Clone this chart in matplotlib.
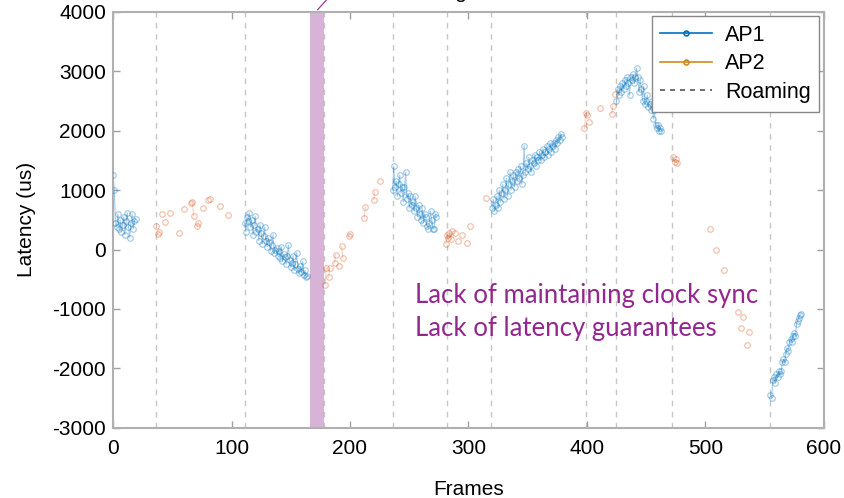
#!/usr/bin/env python3

import numpy as np
import pandas as pd
import matplotlib
matplotlib.use('Agg')
from matplotlib import pyplot as plt
from matplotlib.lines import Line2D

# AP1 samples (frame -> latency in us)
ap1_frames = (list(range(0, 20)) + list(range(111, 165)) + list(range(236, 274))
              + list(range(320, 380)) + list(range(425, 464)) + list(range(555, 582)))
ap1_latency = [
    # 0-19
    1250, 1000, 450, 380, 600, 350, 500, 300, 420, 550, 250, 480, 620, 380, 200, 450, 600, 350, 480, 520,
    # 111-164
    450, 300, 550, 480, 620, 380, 500, 250, 420, 560, 300, 350, 150, 420, 280, 100, 230, 380, 150, 50,
    200, 120, -20, 80, 250, -50, 0, 30, -100, -20, -150, 50, -200, -80, -120, -250, -100, 80, -180, -300,
    -220, -100, -350, -250, -50, -320, -400, -280, -380, -200, -420, -350, -470, -450,
    # 236-273
    1000, 1400, 1050, 1150, 900, 1100, 1250, 950, 1050, 800, 1050, 1300, 850, 950, 700, 900, 750, 800, 650, 900,
    700, 550, 750, 600, 500, 700, 450, 600, 550, 400, 350, 450, 650, 500, 350, 350, 600, 550,
    # 320-379
    700, 850, 650, 750, 900, 700, 1000, 800, 950, 1100, 850, 1000, 1200, 900, 1100, 1300, 1000, 1150, 1250, 1050,
    1300, 1150, 1350, 1200, 1400, 1100, 1250, 1750, 1300, 1450, 1350, 1550, 1400, 1300, 1500, 1450, 1600, 1400, 1550, 1500,
    1650, 1500, 1600, 1700, 1550, 1650, 1750, 1600, 1700, 1800, 1650, 1750, 1800, 1700, 1850, 1800, 1900, 1850, 1950, 1900,
    # 425-463
    2500, 2700, 2600, 2750, 2650, 2800, 2700, 2850, 2750, 2900, 2800, 2600, 2900, 2850, 2950, 2800, 2900, 3050, 2900, 2650,
    2850, 2700, 2500, 2750, 2450, 2500, 2600, 2400, 2450, 2350, 2500, 2200, 2350, 2100, 2050, 2100, 2000, 2050, 2000,
    # 555-581
    -2450, -2500, -2200, -2150, -2250, -2100, -2150, -2050, -2100, -2050, -1900, -1850, -1900, -1750, -1650, -1700,
    -1550, -1500, -1550, -1450, -1400, -1450, -1250, -1200, -1150, -1100, -1080,
]

# AP2 samples, sparse
ap2_frames = [36, 38, 39, 41, 44, 48, 56, 60, 66, 67, 68, 71, 72, 76, 80, 82, 90, 97,
              179, 180, 182, 183, 187, 188, 191, 193, 194, 199, 200, 212, 213, 220, 221, 225,
              281, 282, 283, 284, 285, 286, 289, 291, 295, 299, 301, 315,
              398, 399, 400, 402, 411, 421, 422, 424,
              473, 474, 475, 476, 504, 509, 516, 528, 530, 532, 535, 537]
ap2_latency = [390, 270, 290, 600, 470, 620, 280, 690, 790, 800, 570, 390, 450, 700, 830, 850, 730, 585,
               -590, -310, -470, -310, -225, -85, -270, 55, -140, 225, 260, 530, 720, 840, 965, 1150,
               100, 250, 200, 280, 170, 310, 280, 140, 250, 110, 390, 860,
               2040, 2300, 2270, 2150, 2380, 2290, 2420, 2620,
               1550, 1480, 1520, 1450, 340, 0, -350, -1050, -1320, -1140, -1610, -1390]

roaming = [36, 111, 178, 236, 282, 319, 399, 425, 472, 555]
band = (166, 178)

c1 = '#0072BD'
c2 = '#D95319'
c2_legend = '#D08A1E'
purple = '#93278F'
font = 'Liberation Sans'

plt.rcParams['axes.unicode_minus'] = False

# gaps become NaN so lines only join consecutive frames
allf = np.arange(0, 600)
s1 = pd.Series(ap1_latency, index=ap1_frames).reindex(allf)
s2 = pd.Series(ap2_latency, index=ap2_frames).reindex(allf)

fig = plt.figure(figsize=(8.44, 4.98), dpi=100)
ax = fig.add_axes([0.134, 0.141, 0.842, 0.835])

ax.axvspan(*band, color='#D7B3D8', lw=0, zorder=1)
for r in roaming:
    ax.axvline(r, color='#A0A0A0', ls=(0, (4, 4)), lw=1.0, alpha=0.6, zorder=1)

ax.plot(allf, s1.values, color=c1, lw=0.8, alpha=0.35, zorder=2)
ax.plot(allf, s1.values, ls='none', marker='o', ms=4, mfc='none', mec=c1, mew=0.9, alpha=0.35, zorder=3)
ax.plot(allf, s2.values, color=c2, lw=0.8, alpha=0.25, zorder=2)
ax.plot(allf, s2.values, ls='none', marker='o', ms=4, mfc='none', mec=c2, mew=0.9, alpha=0.35, zorder=3)

ax.set_xlim(0, 600)
ax.set_ylim(-3000, 4000)
ax.set_xticks(range(0, 601, 100))
ax.set_yticks(range(-3000, 4001, 1000))
ax.tick_params(direction='in', length=5, width=1, color='#A0A0A0', top=True, right=True,
               labelsize=15, labelcolor='black')
ax.tick_params(axis='x', pad=8)
ax.tick_params(axis='y', pad=5)
for lab in ax.get_xticklabels() + ax.get_yticklabels():
    lab.set_fontfamily(font)
for sp in ax.spines.values():
    sp.set_color('#B0B0B0')
    sp.set_linewidth(1.5)

ax.set_xlabel('Frames', fontsize=15, family=font, labelpad=16)
ax.set_ylabel('Latency (us)', fontsize=15, family=font, labelpad=12)

handles = [Line2D([], [], color=c1, lw=1.2, marker='o', ms=3.5, mfc='none', mew=1.2),
           Line2D([], [], color=c2_legend, lw=1.2, marker='o', ms=3.5, mfc='none', mew=1.2),
           Line2D([], [], color='#555555', lw=1.2, ls=(0, (3, 3)))]
leg = ax.legend(handles, ['AP1', 'AP2', 'Roaming'], loc='upper right', fancybox=False,
                framealpha=1, edgecolor='#888888', prop={'family': font, 'size': 15.5},
                borderaxespad=0.2, handlelength=2.4, labelspacing=0.35, borderpad=0.4,
                handletextpad=0.6)
leg.get_frame().set_linewidth(1.0)

ax.text(255, -900, 'Lack of maintaining clock sync', color=purple, fontsize=18.5, family='Lato')
ax.text(255, -1450, 'Lack of latency guarantees', color=purple, fontsize=18.5, family='Lato')

# pointer from the band to the (cropped) label above the plot
ax.annotate('', xy=(171, 4000), xytext=(186, 4330), annotation_clip=False,
            arrowprops=dict(arrowstyle='-', color=purple, lw=0.8))
fig.text(467 / 844, 1 + 2 / 498, 'Roaming', ha='right', va='baseline', fontsize=15, family=font)

fig.savefig('out.png', dpi=100)
